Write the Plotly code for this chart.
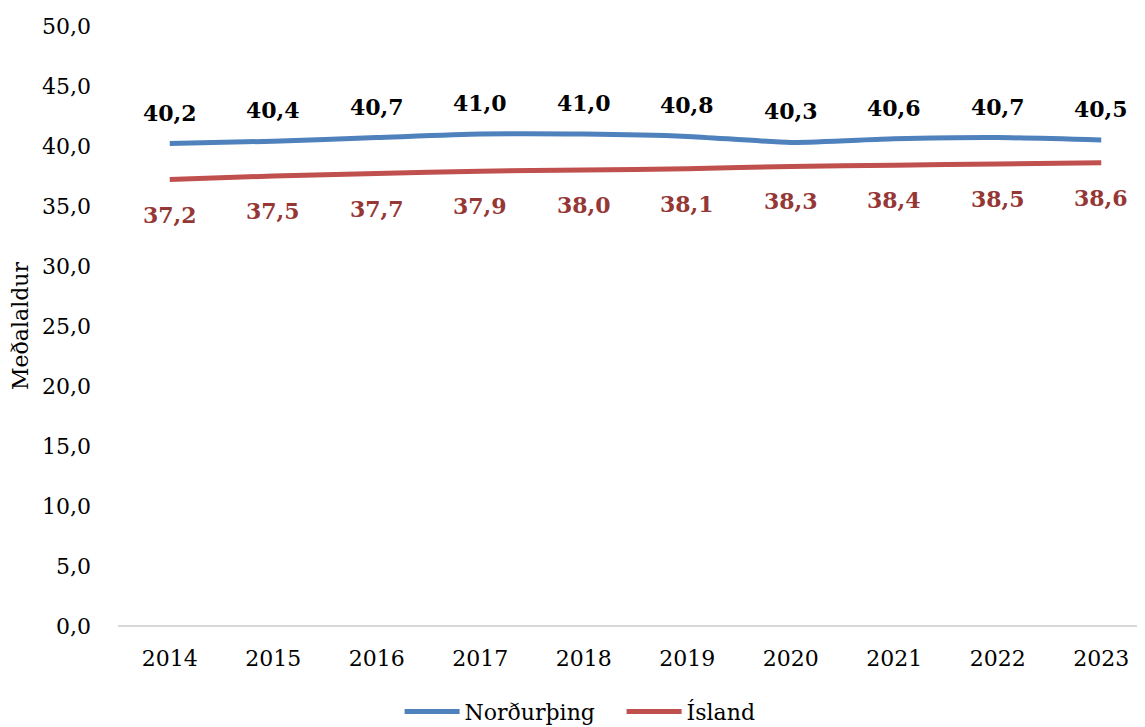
import plotly.graph_objects as go

years = ["2014", "2015", "2016", "2017", "2018", "2019", "2020", "2021", "2022", "2023"]
nordurthing = [40.2, 40.4, 40.7, 41.0, 41.0, 40.8, 40.3, 40.6, 40.7, 40.5]
island = [37.2, 37.5, 37.7, 37.9, 38.0, 38.1, 38.3, 38.4, 38.5, 38.6]
y_ticks = [0, 5, 10, 15, 20, 25, 30, 35, 40, 45, 50]

FONT = "DejaVu Serif"
BLUE = "#4f81bd"
RED = "#c0504d"
RED_TXT = "#953735"

fig = go.Figure()
fig.add_trace(go.Scatter(x=years, y=nordurthing, name="Norðurþing", mode="lines",
                         line=dict(color=BLUE, width=5, shape="spline", smoothing=0.6)))
fig.add_trace(go.Scatter(x=years, y=island, name="Ísland", mode="lines",
                         line=dict(color=RED, width=5, shape="spline", smoothing=0.6)))

fmt = lambda v: f"{v:.1f}".replace(".", ",")
anns = []
for i, v in enumerate(nordurthing):
    anns.append(dict(x=i, y=v, xref="x", yref="y", text=fmt(v), showarrow=False, yshift=31,
                     font=dict(family=FONT, size=22, color="#000000", weight="bold")))
for i, v in enumerate(island):
    anns.append(dict(x=i, y=v, xref="x", yref="y", text=fmt(v), showarrow=False, yshift=-35,
                     font=dict(family=FONT, size=22, color=RED_TXT, weight="bold")))

fig.update_layout(
    width=1145, height=727,
    margin=dict(l=110, r=0, t=18, b=109),
    paper_bgcolor="white", plot_bgcolor="white",
    separators=",.",
    font=dict(family=FONT, size=22, color="#000000"),
    annotations=anns,
    showlegend=True,
    legend=dict(orientation="h", xref="container", yref="container", x=0.342, xanchor="left",
                y=0.003, yanchor="bottom", font=dict(family=FONT, size=22, color="#000000"),
                itemwidth=55, tracegroupgap=0, entrywidth=152),
    xaxis=dict(type="category", range=[-0.5, 9.5], showgrid=False, showline=False,
               zeroline=False, ticks="", ticklabelstandoff=17,
               tickfont=dict(family=FONT, size=22, color="#000000")),
    yaxis=dict(range=[0, 50], tickvals=y_ticks, tickformat=".1f", showgrid=False,
               zeroline=True, zerolinecolor="#d9d9d9", zerolinewidth=2, showline=False,
               ticks="", ticklabelstandoff=26,
               tickfont=dict(family=FONT, size=22, color="#000000"),
               title=dict(text="Meðalaldur", standoff=12, font=dict(family=FONT, size=22, color="#000000"))),
)

fig.write_html("out.html")
